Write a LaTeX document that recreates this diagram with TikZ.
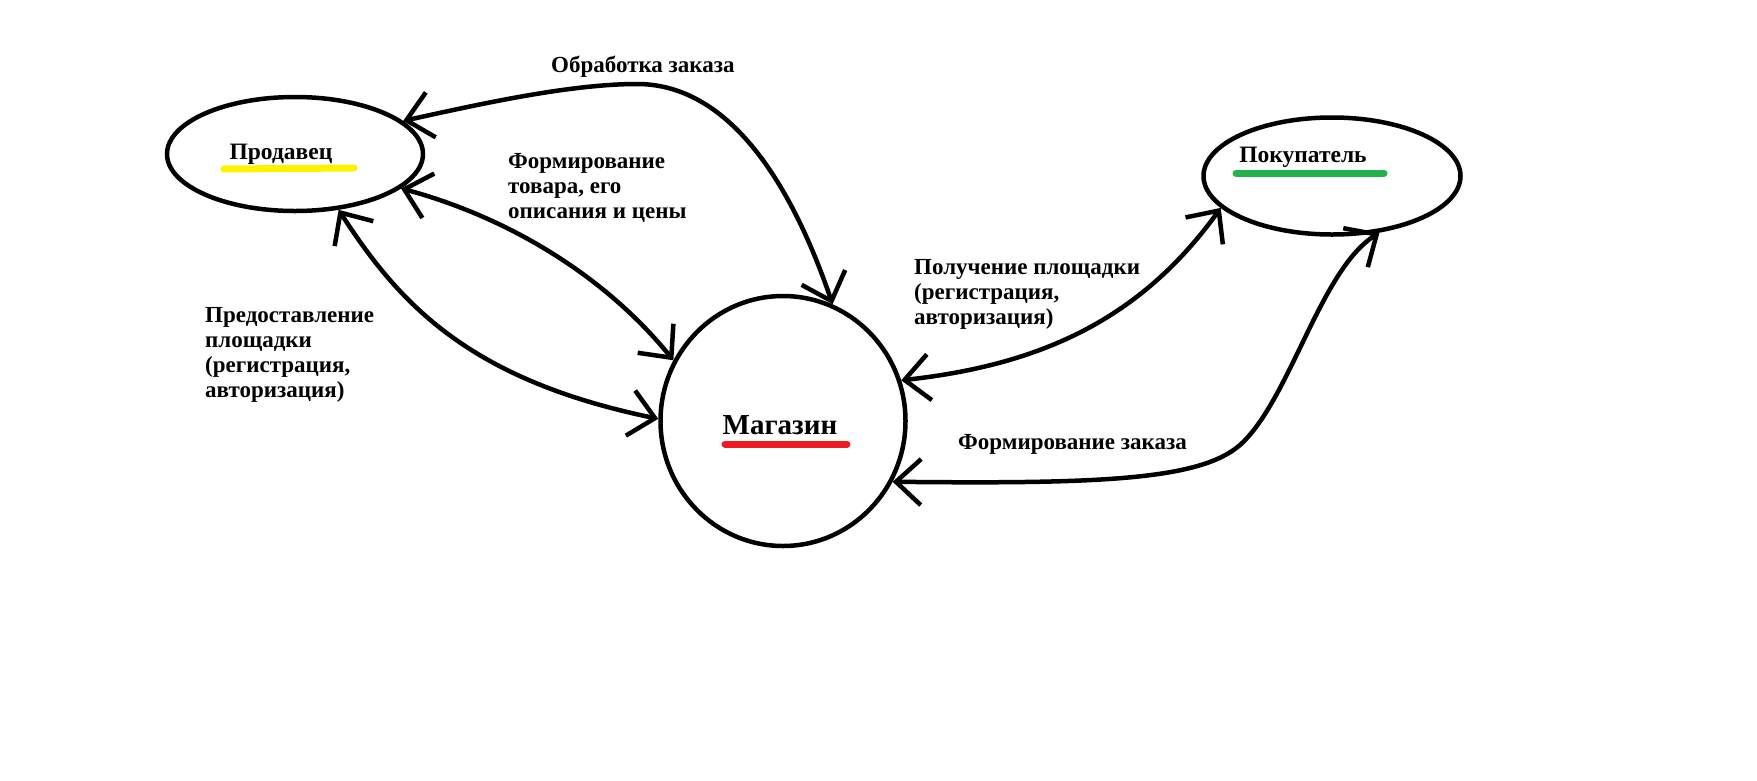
\documentclass[tikz,border=0pt]{standalone}
\usepackage{fontspec}
\setmainfont{Liberation Serif}
\usetikzlibrary{arrows.meta,shapes.geometric}
\definecolor{pyellow}{HTML}{FFF200}
\definecolor{pred}{HTML}{ED1C24}
\definecolor{pgreen}{HTML}{22B14C}
\begin{document}
\begin{tikzpicture}[x=1pt,y=-1pt,
  actor/.style={draw,line width=4.5pt,ellipse,inner sep=0pt},
  lbl/.style={font=\bfseries\fontsize{23}{25.2}\selectfont,align=left,anchor=north west,inner sep=0pt},
  nm/.style={font=\bfseries\fontsize{23.5}{26}\selectfont,inner sep=0pt},
  flow/.style={line width=4.5pt,{Straight Barb[length=25pt,width=46pt]}-{Straight Barb[length=25pt,width=46pt]}},
  ul/.style={line width=7pt,line cap=round}]
\fill[white] (0,0) rectangle (1757,780);
\useasboundingbox (0,0) rectangle (1757,780);

% actors
\node[actor,minimum width=256pt,minimum height=114pt] (prod) at (295,154) {};
\node[actor,minimum width=245pt,minimum height=250pt] (mag) at (783,421) {};
\node[actor,minimum width=257pt,minimum height=117pt] (pok) at (1332,176) {};

% names and underlines
\draw[ul,pyellow] (224,169) -- (354,168);
\draw[ul,pred] (725,444) -- (847,444);
\draw[ul,pgreen] (1236,173) -- (1384,173);
\node[nm] (tprod) at (281,154) {Продавец};
\node[nm,font=\bfseries\fontsize{29}{32}\selectfont] (tmag) at (780,425) {Магазин};
\node[nm] (tpok) at (1303,157) {Покупатель};

% flows
\draw[flow] (prod.17) .. controls (480,104) and (570,84) .. (637,84)
  .. controls (720,84) and (785,165) .. (mag.67);
\draw[flow] (prod.-18) .. controls (500,215) and (600,270) .. (mag.151);
\draw[flow] (prod.-52) .. controls (400,305) and (470,380) .. (mag.179);
\draw[flow] (mag.19) .. controls (1040,365) and (1140,320) .. (pok.-164);
\draw[flow] (mag.-29) .. controls (1100,484) and (1200,480) .. (1240,445)
  .. controls (1290,400) and (1320,270) .. (pok.-50);

% labels
\node[lbl] (l1) at (551,56) {Обработка заказа};
\node[lbl] (l2) at (508,153) {Формирование\\товара, его\\описания и цены};
\node[lbl] (l3) at (205,307) {Предоставление\\площадки\\(регистрация,\\авторизация)};
\node[lbl] (l4) at (914,259) {Получение площадки\\(регистрация,\\авторизация)};
\node[lbl] (l5) at (958,434) {Формирование заказа};
\end{tikzpicture}
\end{document}
